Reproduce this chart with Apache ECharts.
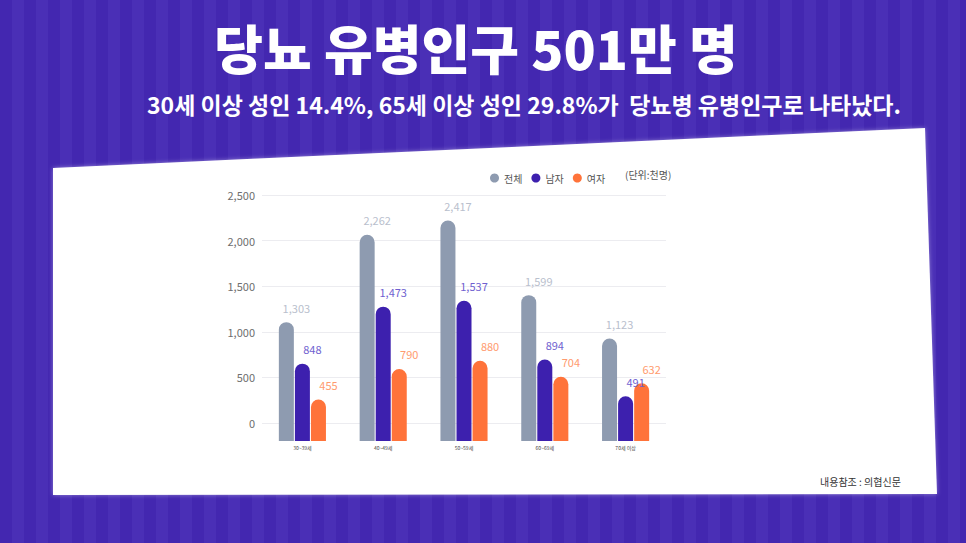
<!DOCTYPE html>
<html>
<head>
<meta charset="utf-8">
<script src="https://cdn.jsdelivr.net/npm/echarts@6/dist/echarts.min.js"></script>
<style>
  html, body { margin:0; padding:0; }
  body {
    width:966px; height:543px; overflow:hidden;
    background: repeating-linear-gradient(90deg, #4327b0 0px, #4327b0 12px, #4a2fb6 12px, #4a2fb6 24px);
  }
  #chart { width:966px; height:543px; }
</style>
</head>
<body>
<div id="chart"></div>
<script>
// ---- data ----
var categories = ['30~39세', '40~49세', '50~59세', '60~69세', '70세 이상'];
var seriesNames = ['전체', '남자', '여자'];
var totalValues = [1303, 2262, 2417, 1599, 1123];
var maleValues = [848, 1473, 1537, 894, 491];
var femaleValues = [455, 790, 880, 704, 632];
var titleText = '당뇨 유병인구 501만 명';
var subtitleText = '30세 이상 성인 14.4%, 65세 이상 성인 29.8%가  당뇨병 유병인구로 나타났다.';
var unitText = '(단위:천명)';
var sourceText = '내용참조 : 의협신문';

var FONT = '"Noto Sans CJK KR", "Noto Sans", sans-serif';
var barColors = ['#8e9bb0', '#3d20ae', '#ff733a'];
var labelColors = ['#b9c0cd', '#6f5fd0', '#ff9b6e'];
var valuesList = [totalValues, maleValues, femaleValues];

function fmt(v) { return Number(v).toLocaleString('en-US'); }

var chart = echarts.init(document.getElementById('chart'), null, { renderer: 'svg' });

var series = seriesNames.map(function (name, i) {
  return {
    name: name,
    type: 'bar',
    xAxisIndex: 1,
    yAxisIndex: 1,
    data: valuesList[i],
    barWidth: 15,
    barGap: '7%',
    itemStyle: { color: barColors[i], borderRadius: [8, 8, 0, 0] },
    label: {
      show: true,
      position: 'top',
      offset: [10, -4],
      color: labelColors[i],
      fontSize: 11,
      fontFamily: FONT,
      formatter: function (p) { return fmt(p.value); }
    },
    z: 3
  };
});

var option = {
  animation: false,
  textStyle: { fontFamily: FONT },
  graphic: [
    {
      type: 'polygon',
      z: -100,
      shape: { points: [[53, 168], [925, 128], [937, 494], [53, 495]] },
      style: { fill: '#ffffff', shadowBlur: 4, shadowColor: 'rgba(255,255,255,0.4)' }
    },
    {
      type: 'text', x: 476, y: 47, z: 10,
      style: { text: titleText, fill: '#ffffff', font: '900 53px ' + FONT, textAlign: 'center', textVerticalAlign: 'middle' }
    },
    {
      type: 'text', x: 524, y: 104, z: 10,
      style: { text: subtitleText, fill: '#ffffff', font: 'bold 23px ' + FONT, textAlign: 'center', textVerticalAlign: 'middle' }
    },
    {
      type: 'text', x: 625, y: 174, z: 10,
      style: { text: unitText, fill: '#555555', font: '10px ' + FONT, textAlign: 'left', textVerticalAlign: 'middle' }
    },
    {
      type: 'text', x: 820, y: 481, z: 10,
      style: { text: sourceText, fill: '#333333', font: '10px ' + FONT, textAlign: 'left', textVerticalAlign: 'middle' }
    }
  ],
  legend: {
    data: seriesNames,
    left: 485,
    top: 168,
    icon: 'circle',
    itemWidth: 9,
    itemHeight: 9,
    itemGap: 9,
    textStyle: { fontSize: 10, color: '#555555', fontFamily: FONT }
  },
  grid: [
    { left: 262, right: 300, top: 195, bottom: 120 },
    { left: 262, right: 300, top: 213, bottom: 102 }
  ],
  xAxis: [
    { type: 'category', gridIndex: 0, data: categories, show: false },
    {
      type: 'category', gridIndex: 1, data: categories,
      axisLine: { show: false }, axisTick: { show: false },
      axisLabel: { fontSize: 5, margin: 4, color: '#444444', fontFamily: FONT }
    }
  ],
  yAxis: [
    {
      type: 'value', gridIndex: 0, min: 0, max: 2500, interval: 500,
      axisLine: { show: false }, axisTick: { show: false },
      axisLabel: { fontSize: 11, color: '#6e6e6e', margin: 7, fontFamily: FONT, formatter: fmt },
      splitLine: { lineStyle: { color: '#ececf0', width: 1 } }
    },
    {
      type: 'value', gridIndex: 1, min: 0, max: 2500, show: false,
      splitLine: { show: false }
    }
  ],
  series: series
};

chart.setOption(option);
</script>
</body>
</html>
